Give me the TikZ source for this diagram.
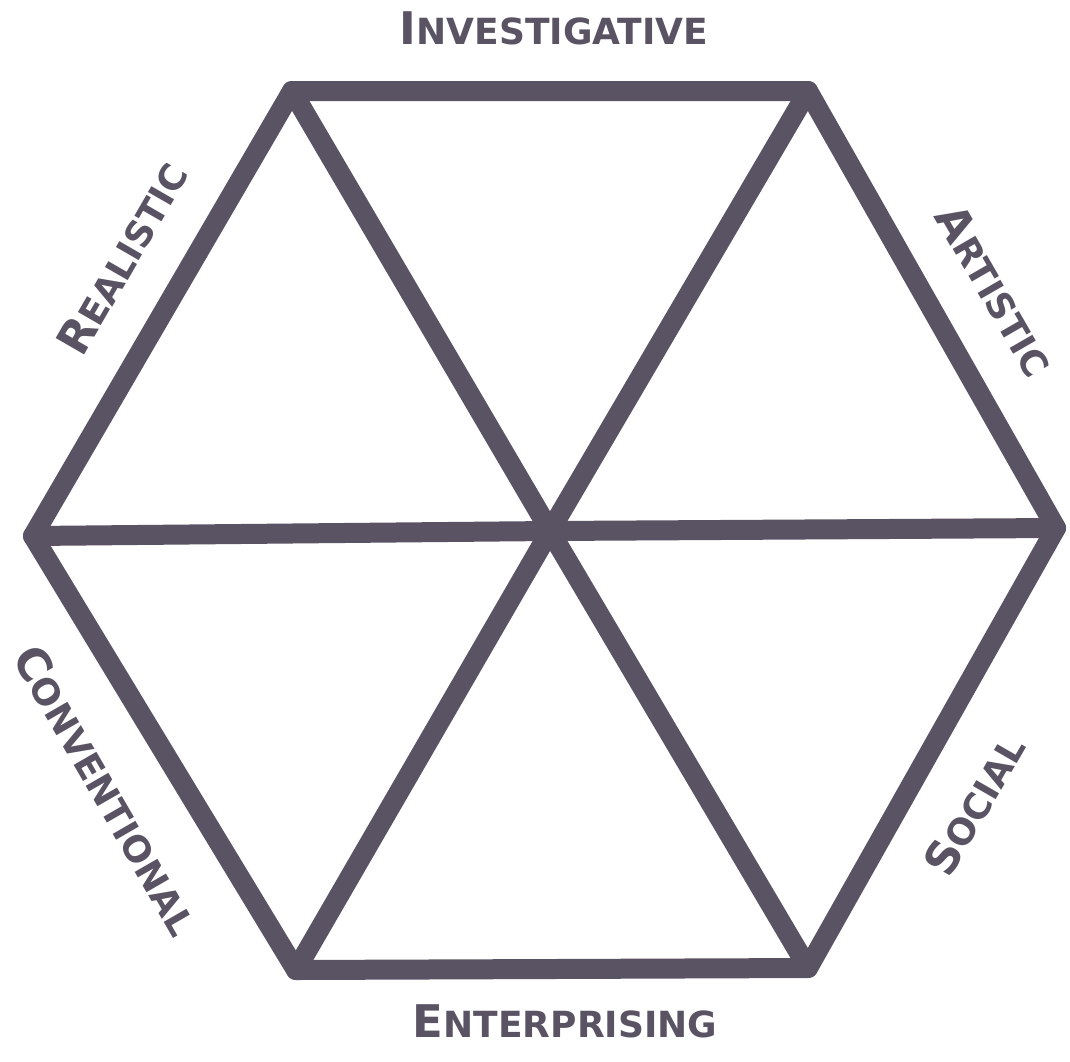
\documentclass[tikz,border=0pt]{standalone}
\usepackage{fontspec}
\usepackage{tikz}
\usetikzlibrary{positioning}
\newfontfamily\hexfont{DejaVu Sans}
\definecolor{hexline}{RGB}{90,83,100}
\newcommand{\capword}[2]{{\fontsize{45}{45}\selectfont #1}{\fontsize{36}{36}\selectfont #2}}
\tikzset{
  edge/.style={draw=hexline, line width=20pt, line cap=round, line join=round},
  side/.style={font=\hexfont\bfseries, text=hexline, inner sep=0pt, anchor=center}
}

\begin{document}
\begin{tikzpicture}[x=1pt, y=-1pt]
\useasboundingbox[fill=white] (0,0) rectangle (1070,1061);
% corners of the hexagon
\coordinate (tl) at (292,91);
\coordinate (tr) at (808,91);
\coordinate (rr) at (1056,528);
\coordinate (br) at (808,968);
\coordinate (bl) at (296,970);
\coordinate (ll) at (33,536);
\coordinate (c) at (550,531);
\draw[edge] (tl)--(tr)--(rr)--(br)--(bl)--(ll)--cycle;
\draw[edge] (tl)--(c)--(br);
\draw[edge] (tr)--(c)--(bl);
\draw[edge] (ll)--(c)--(rr);
% type labels
\node[side] (inv) at (554,28) {\capword{I}{NVESTIGATIVE}};
\node[side] (ent) at (565,1021) {\capword{E}{NTERPRISING}};
\node[side, rotate=60] (rea) at (122,258) {\capword{R}{EALISTIC}};
\node[side, rotate=-60] (art) at (995,290) {\capword{A}{RTISTIC}};
\node[side, rotate=-60] (con) at (107,790) {\capword{C}{ONVENTIONAL}};
\node[side, rotate=60] (soc) at (974,805) {\capword{S}{OCIAL}};
\end{tikzpicture}
\end{document}
